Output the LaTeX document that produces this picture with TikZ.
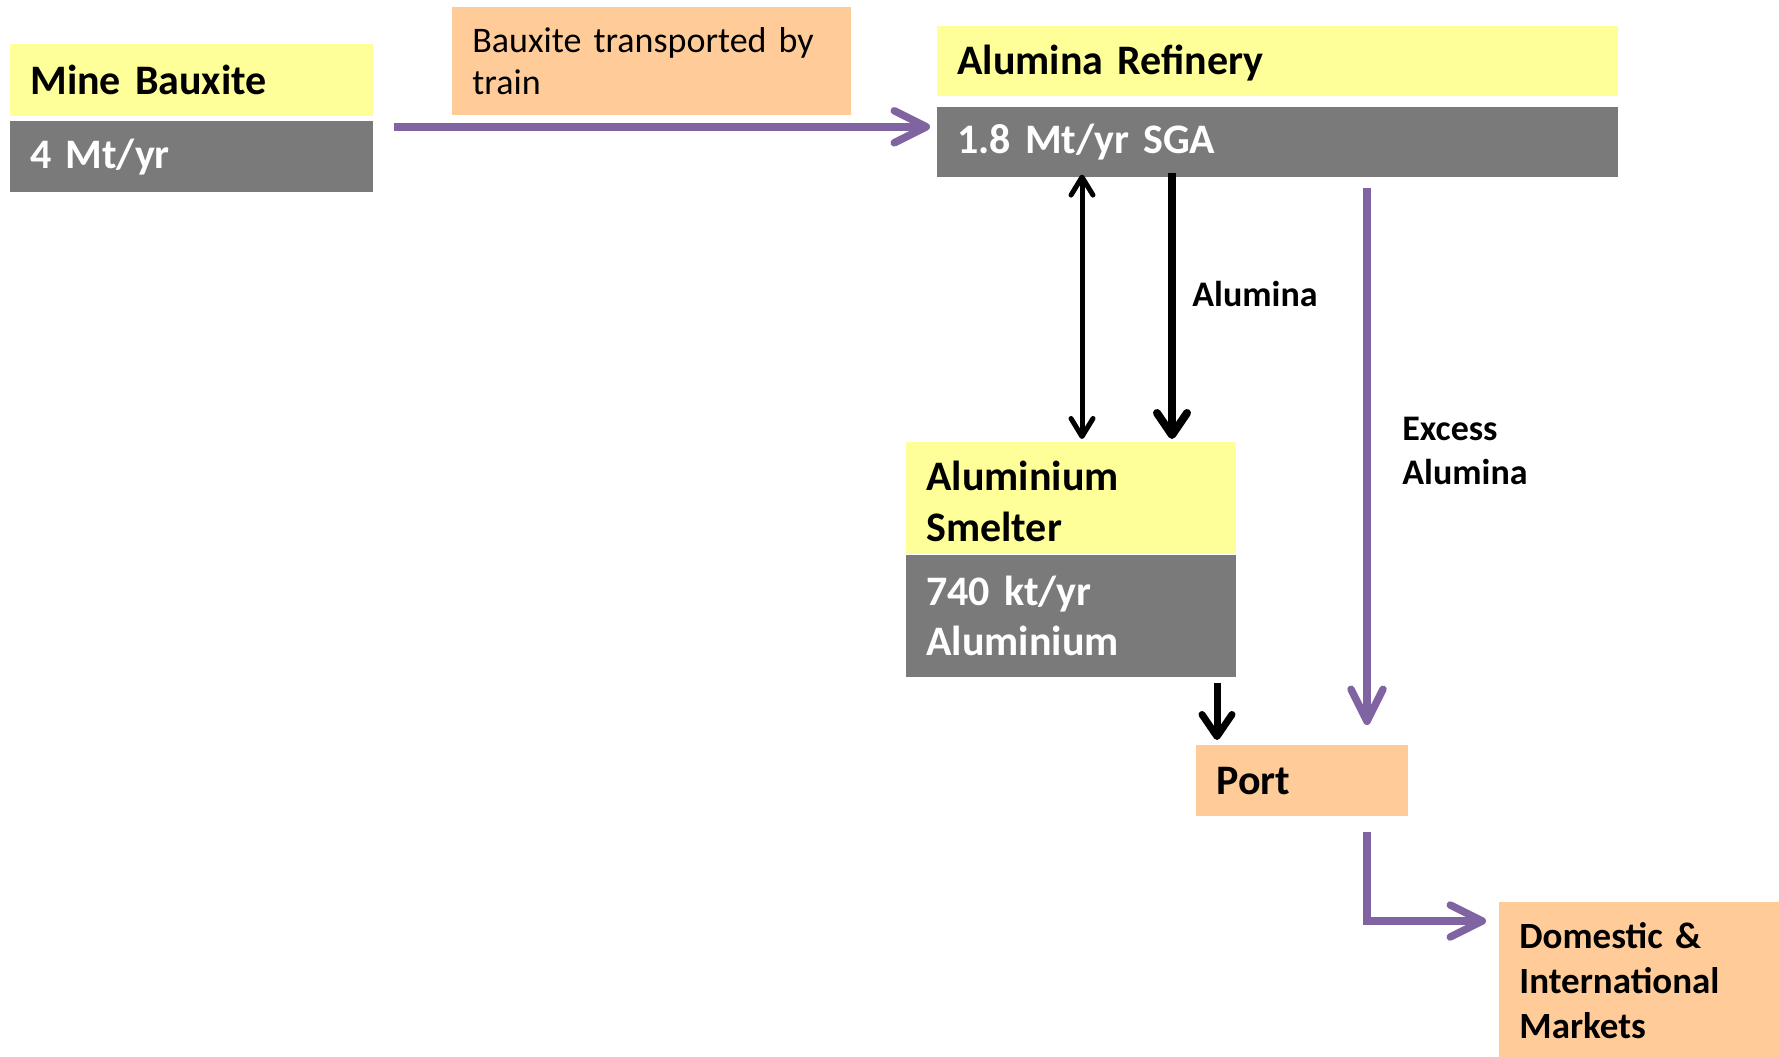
\documentclass[tikz,border=0pt]{standalone}
\usepackage{fontspec}
\setmainfont{Carlito}
\usetikzlibrary{arrows.meta, calc, positioning}
\definecolor{headYellow}{HTML}{FFFF99}
\definecolor{rateGray}{HTML}{7A7A7A}
\definecolor{noteOrange}{HTML}{FFCC99}
\definecolor{flowPurple}{HTML}{8064A2}

\begin{document}
\begin{tikzpicture}[x=0.5pt, y=-0.5pt,
	nodes={anchor=north west, inner xsep=10pt, inner ysep=0pt, align=left},
	head/.style={fill=headYellow, font=\bfseries\fontsize{21}{25}\selectfont},
	rate/.style={fill=rateGray, text=white, font=\bfseries\fontsize{21}{25}\selectfont},
	note/.style={fill=noteOrange},
	flowtext/.style={inner sep=0pt, anchor=base west, font=\bfseries\fontsize{18}{22}\selectfont},
	purpleflow/.style={draw=flowPurple, line width=3.75pt, -{Straight Barb[round, length=16pt, width=16pt]}},
	blackflow/.style={draw=black, line width=#1, -{Straight Barb[round, length=11pt, width=15pt]}}]
	\useasboundingbox (0,0) rectangle (1779,1056);
	
	% process blocks
	\node[head, text width=161.5pt, minimum height=36pt] (mineHead) at (10,44) {Mine Bauxite};
	\node[rate, text width=161.5pt, minimum height=35.5pt, below=2pt of mineHead] (mineRate) {4 Mt/yr};
	\node[note, font=\fontsize{18}{21}\selectfont, text width=179.5pt, minimum height=54pt] (trainNote) at (452,7) {Bauxite transported by\\train};
	\node[head, text width=320.5pt, minimum height=35pt, text depth=2pt] (refHead) at (937,26) {Alumina Refinery};
	\node[rate, text width=320.5pt, minimum height=35pt, below=5pt of refHead] (refRate) {1.8 Mt/yr SGA};
	\node[head, text width=145pt, minimum height=56pt, font=\bfseries\fontsize{21}{25.5}\selectfont] (smeltHead) at (906,442) {\strut\\[-25.5pt]Aluminium\\Smelter};
	\node[rate, text width=145pt, minimum height=61pt, below=0pt of smeltHead] (smeltRate) {740 kt/yr\\Aluminium};
	\node[note, font=\bfseries\fontsize{21}{25}\selectfont, text width=86pt, minimum height=35.5pt] (port) at (1196,745) {Port};
	\node[note, font=\bfseries\fontsize{18.5}{22.5}\selectfont, text width=120pt, minimum height=78pt] (markets) at (1499,902) {Domestic \&\\International\\Markets};
	
	\node[flowtext] (aluminaText) at (1192,306) {Alumina};
	\node[flowtext] (excessText) at (1402,484) {Excess\\Alumina};
	
	% flows
	\draw[purpleflow] ($(mineRate.north east)+(20,6)$) -- ($(refRate.north west)+(-7,20)$);
	\draw[draw=black, line width=2.5pt, {Straight Barb[round, length=9pt, width=11pt]}-{Straight Barb[round, length=9pt, width=11pt]}]
		($(refRate.south west)+(145,-3)$) -- ($(smeltHead.north west)+(176,-3)$);
	\draw[blackflow=4pt] ($(refRate.south west)+(235,-5)$) -- ($(smeltHead.north west)+(266,-3)$);
	\draw[blackflow=3.5pt] ($(smeltRate.south west)+(311,5)$) -- ($(port.north west)+(21,-5)$);
	\draw[purpleflow] ($(refRate.south west)+(430,10)$) -- ($(port.north west)+(171,-20)$);
	\draw[purpleflow] ($(port.south west)+(171,15)$) |- ($(markets.north west)+(-13,19)$);
	
\end{tikzpicture}
\end{document}
